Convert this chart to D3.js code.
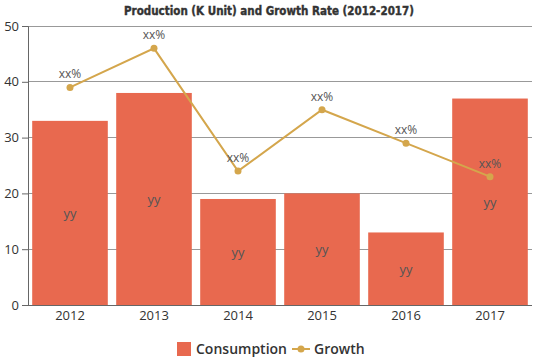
<!DOCTYPE html>
<html><head><meta charset="utf-8">
<script src="https://cdn.jsdelivr.net/npm/d3@7"></script>
<style>body{margin:0;background:#fff}svg{display:block}</style>
</head><body>
<svg id="c" width="539" height="359"></svg>
<script>
const categories = ["2012","2013","2014","2015","2016","2017"];
const consumption = [33, 38, 19, 20, 13, 37];
const growth = [39, 46, 24, 35, 29, 23];
const barLabels = ["yy","yy","yy","yy","yy","yy"];
const pointLabels = ["xx%","xx%","xx%","xx%","xx%","xx%"];
const yTicks = [0,10,20,30,40,50];

const svg = d3.select("#c");
const m = {l:28, r:7, t:26, b:54};
const W = 539, H = 359;
const x = d3.scaleBand().domain(categories).range([m.l, W-m.r]).paddingInner(0.1).paddingOuter(0.05);
const y = d3.scaleLinear().domain([0,50]).range([H-m.b, m.t]);
const font = "'Open Sans', sans-serif";

// grid
svg.append("g").selectAll("line").data(yTicks.filter(d=>d>0)).join("line")
  .attr("x1", m.l).attr("x2", W-m.r).attr("y1", d=>y(d)).attr("y2", d=>y(d))
  .attr("stroke", "#999").attr("stroke-width", 1).attr("shape-rendering","crispEdges");

// y axis
const ya = svg.append("g").attr("transform", `translate(${m.l},0)`)
  .call(d3.axisLeft(y).tickValues(yTicks).tickSize(6).tickPadding(3));
ya.select(".domain").attr("stroke","#666");
ya.selectAll(".tick line").attr("stroke","#666");
ya.selectAll("text").attr("font-family", font).attr("font-size", 13).attr("fill","#333");

// bars
svg.append("g").selectAll("rect").data(consumption).join("rect")
  .attr("x", (d,i)=>x(categories[i])).attr("width", x.bandwidth())
  .attr("y", d=>y(d)).attr("height", d=>y(0)-y(d)).attr("fill", "#E8694F");

svg.append("g").selectAll("text").data(consumption).join("text")
  .attr("x", (d,i)=>x(categories[i])+x.bandwidth()/2).attr("y", d=>(y(d)+y(0))/2+5)
  .attr("text-anchor","middle").attr("font-family", font).attr("font-size", 13).attr("fill","#555")
  .text((d,i)=>barLabels[i]);

// x axis
const xa = svg.append("g").attr("transform", `translate(0,${y(0)})`)
  .call(d3.axisBottom(x).tickSize(0).tickPadding(6));
xa.select(".domain").attr("stroke","#666").attr("d", `M${m.l},0.5H${W-m.r}`);
xa.selectAll("text").attr("font-family", font).attr("font-size", 13).attr("fill","#333");

// growth line
const line = d3.line().x((d,i)=>x(categories[i])+x.bandwidth()/2).y(d=>y(d));
svg.append("path").datum(growth).attr("d", line).attr("fill","none")
  .attr("stroke","#D4A64C").attr("stroke-width", 2);
svg.append("g").selectAll("circle").data(growth).join("circle")
  .attr("cx",(d,i)=>x(categories[i])+x.bandwidth()/2).attr("cy", d=>y(d)).attr("r", 3.5)
  .attr("fill","#D4A64C");
svg.append("g").selectAll("text").data(growth).join("text")
  .attr("x",(d,i)=>x(categories[i])+x.bandwidth()/2).attr("y", d=>y(d)-9)
  .attr("text-anchor","middle").attr("font-family", font).attr("font-size", 12).attr("fill","#555")
  .text((d,i)=>pointLabels[i]);

// title
svg.append("text").attr("x", 269).attr("y", 15).attr("text-anchor","middle")
  .attr("font-family","'DejaVu Sans Condensed', 'DejaVu Sans', sans-serif").attr("font-weight","bold")
  .attr("font-size", 13).attr("fill","#333").attr("stroke","#333").attr("stroke-width",0.4)
  .attr("textLength", 290).attr("lengthAdjust","spacingAndGlyphs")
  .text("Production (K Unit) and Growth Rate (2012-2017)");

// legend
const lg = svg.append("g");
lg.append("rect").attr("x",177).attr("y",342).attr("width",14).attr("height",14).attr("fill","#E8694F");
lg.append("text").attr("x",196).attr("y",354).attr("font-family",font).attr("font-weight",600)
  .attr("font-size",14).attr("fill","#333").text("Consumption");
lg.append("line").attr("x1",292).attr("x2",310).attr("y1",349).attr("y2",349).attr("stroke","#D4A64C").attr("stroke-width",2);
lg.append("circle").attr("cx",301).attr("cy",349).attr("r",3.5).attr("fill","#D4A64C");
lg.append("text").attr("x",314).attr("y",354).attr("font-family",font).attr("font-weight",600)
  .attr("font-size",14).attr("fill","#333").text("Growth");
</script>
</body></html>
